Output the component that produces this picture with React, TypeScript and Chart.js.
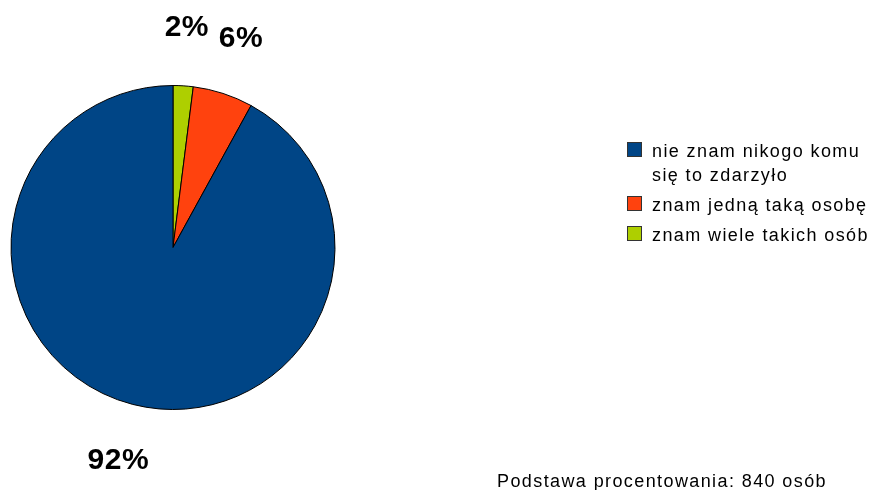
import React, { useEffect, useRef } from 'react';
import { Chart, registerables } from 'chart.js';
Chart.register(...registerables);

const categories: string[][] = [
  ['nie znam nikogo komu', 'się to zdarzyło'],
  ['znam jedną taką osobę'],
  ['znam wiele takich osób'],
];
const shares = [92, 6, 2];
const sliceColors = ['#004586', '#ff420e', '#aecf00'];
const footnote = 'Podstawa procentowania: 840 osób';

export default function App() {
  const ref = useRef<HTMLCanvasElement>(null);
  useEffect(() => {
    if (!ref.current) return;
    // draw clockwise from top: last category first
    const drawIdx = categories.map((_, i) => categories.length - 1 - i);
    const drawValues = drawIdx.map((i) => shares[i]);
    const drawColors = drawIdx.map((i) => sliceColors[i]);
    const drawLabels = drawIdx.map((i) => categories[i].join(' '));

    const decor = {
      id: 'decor',
      afterDraw(chart: any) {
        const ctx: CanvasRenderingContext2D = chart.ctx;
        const meta = chart.getDatasetMeta(0);
        ctx.save();
        // percentage labels
        ctx.fillStyle = '#000';
        ctx.font = 'bold 30px "Liberation Sans", Arial, sans-serif';
        (ctx as any).letterSpacing = '0.5px';
        ctx.textAlign = 'center';
        ctx.textBaseline = 'middle';
        meta.data.forEach((arc: any, i: number) => {
          const p = arc.getProps(['startAngle', 'endAngle', 'outerRadius', 'x', 'y'], true);
          const mid = (p.startAngle + p.endAngle) / 2;
          const d = p.outerRadius + 58;
          ctx.fillText(`${drawValues[i]}%`, p.x + Math.cos(mid) * d, p.y + Math.sin(mid) * d);
        });

        // legend
        const lx = 627;
        const tx = 652;
        const box = 15;
        const lineH = 24;
        const itemGap = 30;
        let base = 157;
        ctx.font = '18px "Liberation Sans", Arial, sans-serif';
        (ctx as any).letterSpacing = '1.4px';
        ctx.textAlign = 'left';
        ctx.textBaseline = 'alphabetic';
        categories.forEach((lines, i) => {
          ctx.fillStyle = sliceColors[i];
          ctx.fillRect(lx, base - box, box, box);
          ctx.strokeStyle = '#333';
          ctx.lineWidth = 1;
          ctx.strokeRect(lx + 0.5, base - box + 0.5, box - 1, box - 1);
          ctx.fillStyle = '#000';
          lines.forEach((t, j) => {
            ctx.fillText(t, tx, base + j * lineH);
          });
          base += (lines.length - 1) * lineH + itemGap;
        });

        // footnote
        ctx.fillText(footnote, 497, 487);
        ctx.restore();
      },
    };

    const chart = new Chart(ref.current, {
      type: 'pie',
      data: {
        labels: drawLabels,
        datasets: [
          {
            data: drawValues,
            backgroundColor: drawColors,
            borderColor: '#000',
            borderWidth: 1,
          },
        ],
      },
      options: {
        animation: false,
        responsive: true,
        maintainAspectRatio: false,
        layout: { padding: { left: 10.5, top: 85, right: 533.5, bottom: 80 } },
        plugins: {
          legend: { display: false },
          tooltip: { enabled: false },
        },
      },
      plugins: [decor],
    });
    return () => chart.destroy();
  }, []);

  return (
    <div style={{ position: 'absolute', left: 0, top: 0, width: 869, height: 490, background: '#fff' }}>
      <canvas ref={ref} />
    </div>
  );
}
